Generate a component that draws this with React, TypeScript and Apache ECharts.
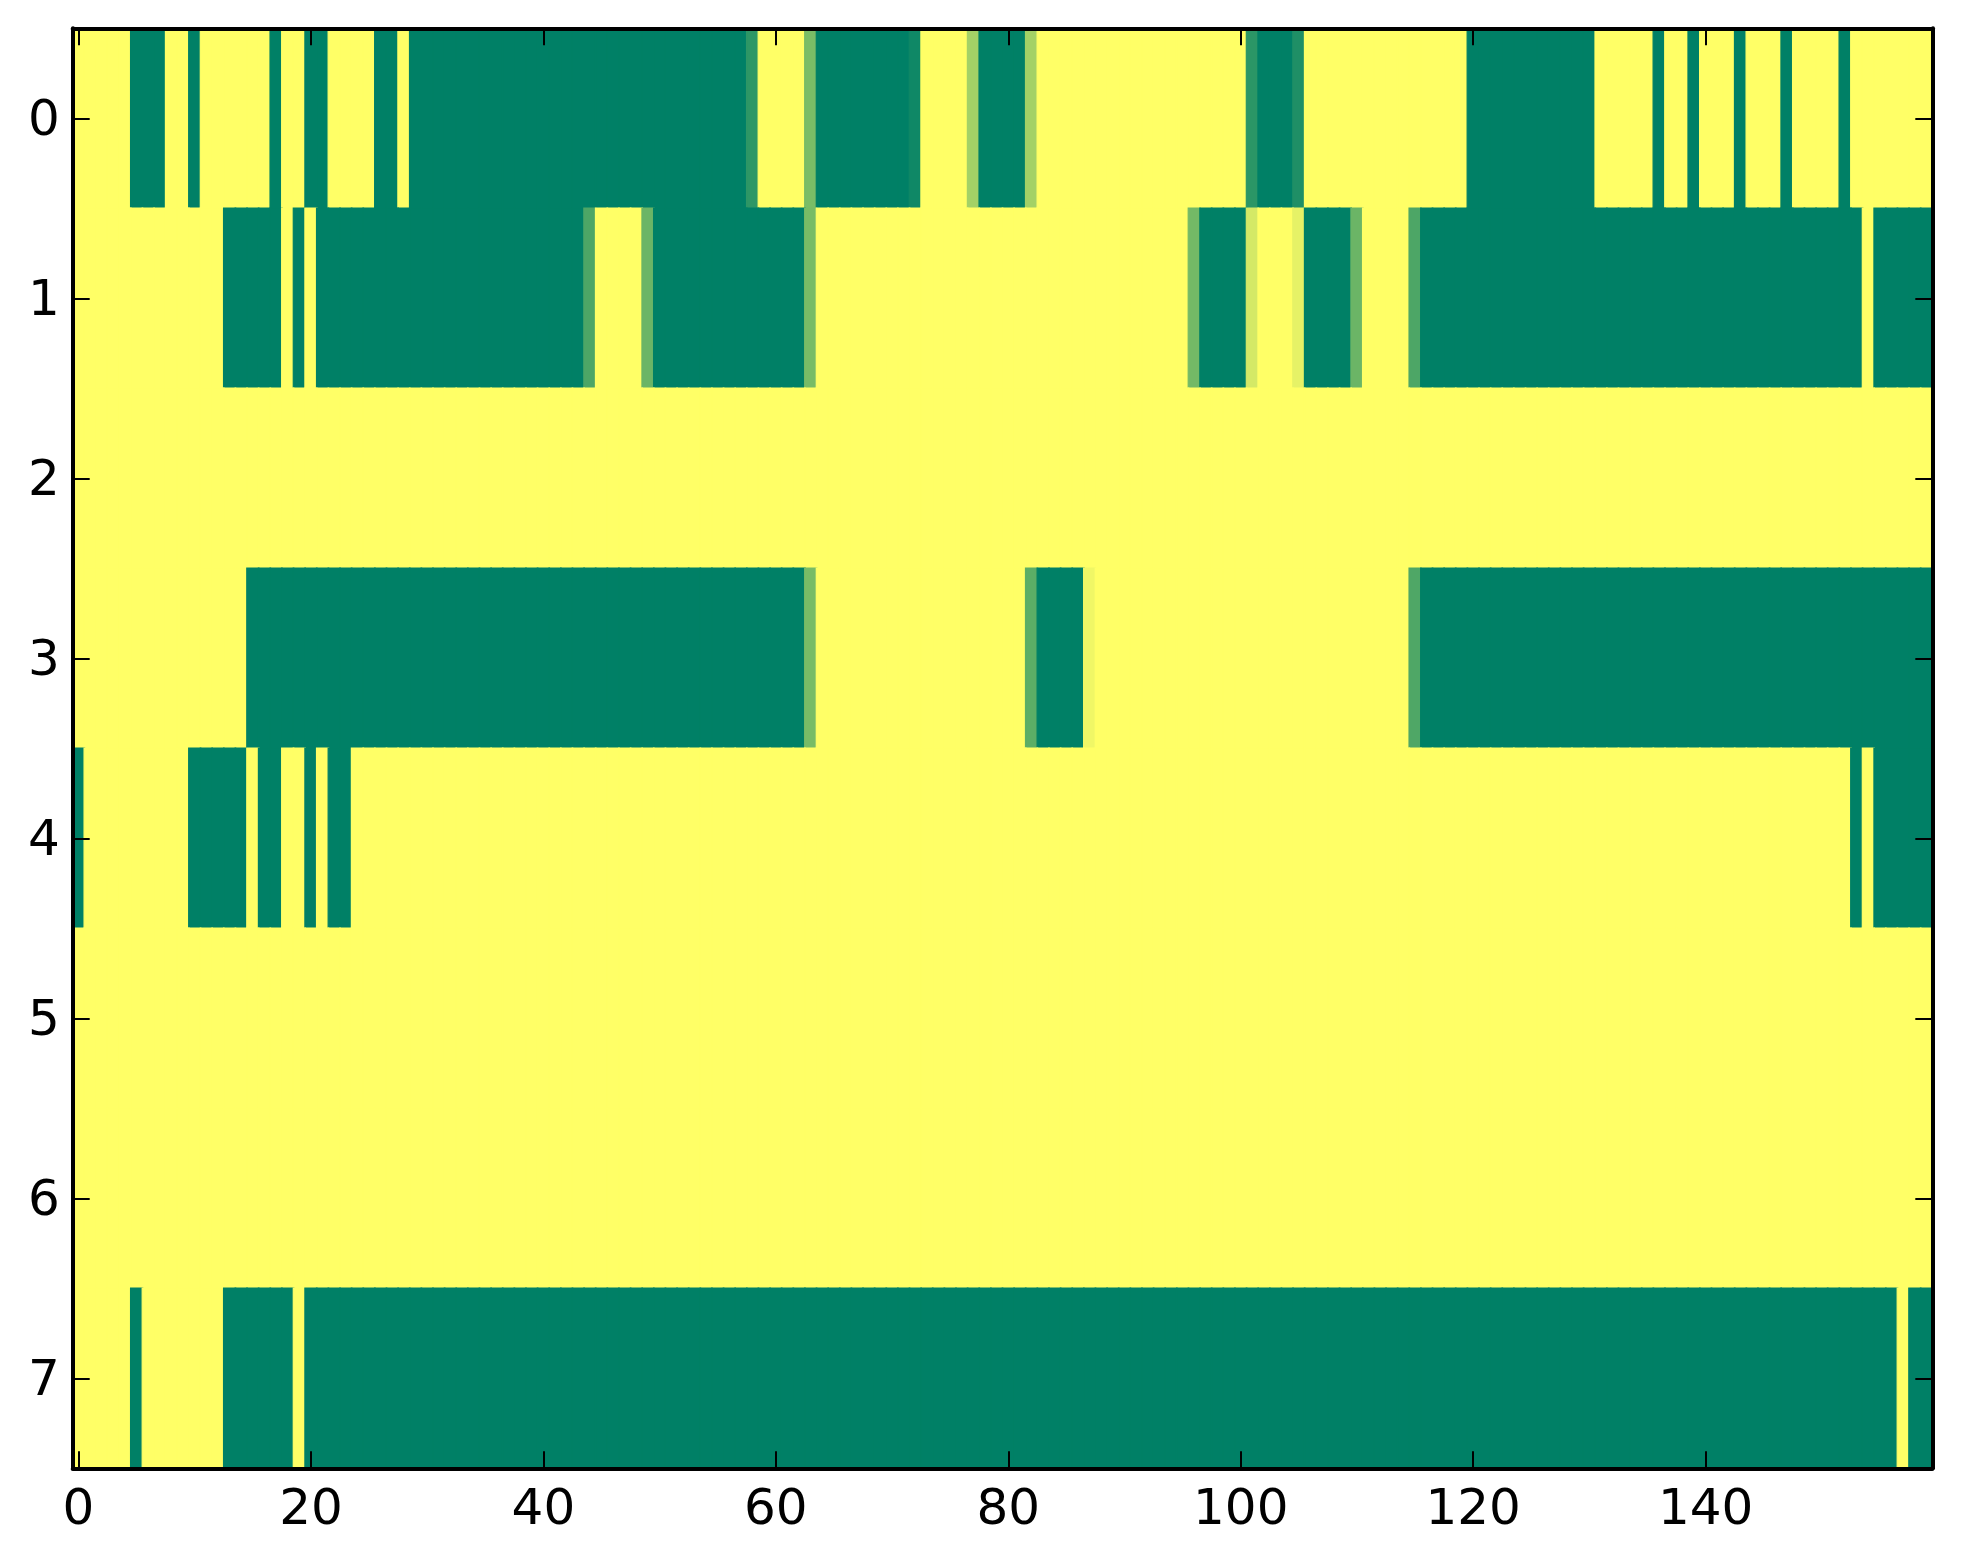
import { useEffect, useRef } from "react";
import * as echarts from "echarts";

// column categories 0..159 and row categories 0..7
const xCategories: string[] = Array.from({ length: 160 }, (_, i) => String(i));
const yCategories = ["0", "1", "2", "3", "4", "5", "6", "7"];
const xTickLabels = ["0", "20", "40", "60", "80", "100", "120", "140"];

// cell values per row (0 = green end, 1 = yellow end of the colormap)
const row0 = [
  1,1,1,1,1,0,0,0,1,1,0,1,1,1,1,1,1,0,1,1,
  0,0,1,1,1,1,0,0,1,0,0,0,0,0,0,0,0,0,0,0,
  0,0,0,0,0,0,0,0,0,0,0,0,0,0,0,0,0,0,0.18,1,
  1,1,1,0.48,0,0,0,0,0,0,0,0,0.06,1,1,1,1,0.64,0,0,
  0,0,0.64,1,1,1,1,1,1,1,1,1,1,1,1,1,1,1,1,1,
  1,0.17,0,0,0,0.12,1,1,1,1,1,1,1,1,1,1,1,1,1,1,
  0,0,0,0,0,0,0,0,0,0,0,1,1,1,1,1,0,1,1,0,
  1,1,1,0,1,1,1,0,1,1,1,1,0,1,1,1,1,1,1,1,
];
const row1 = [
  1,1,1,1,1,1,1,1,1,1,1,1,1,0,0,0,0,0,1,0,
  1,0,0,0,0,0,0,0,0,0,0,0,0,0,0,0,0,0,0,0,
  0,0,0,0,0.3,1,1,1,1,0.42,0,0,0,0,0,0,0,0,0,0,
  0,0,0,0.47,1,1,1,1,1,1,1,1,1,1,1,1,1,1,1,1,
  1,1,1,1,1,1,1,1,1,1,1,1,1,1,1,1,0.45,0,0,0,
  0,0.83,1,1,1,0.9,0,0,0,0,0.42,1,1,1,1,0.3,0,0,0,0,
  0,0,0,0,0,0,0,0,0,0,0,0,0,0,0,0,0,0,0,0,
  0,0,0,0,0,0,0,0,0,0,0,0,0,0,1,0,0,0,0,0,
];
const row2 = [
  1,1,1,1,1,1,1,1,1,1,1,1,1,1,1,1,1,1,1,1,
  1,1,1,1,1,1,1,1,1,1,1,1,1,1,1,1,1,1,1,1,
  1,1,1,1,1,1,1,1,1,1,1,1,1,1,1,1,1,1,1,1,
  1,1,1,1,1,1,1,1,1,1,1,1,1,1,1,1,1,1,1,1,
  1,1,1,1,1,1,1,1,1,1,1,1,1,1,1,1,1,1,1,1,
  1,1,1,1,1,1,1,1,1,1,1,1,1,1,1,1,1,1,1,1,
  1,1,1,1,1,1,1,1,1,1,1,1,1,1,1,1,1,1,1,1,
  1,1,1,1,1,1,1,1,1,1,1,1,1,1,1,1,1,1,1,1,
];
const row3 = [
  1,1,1,1,1,1,1,1,1,1,1,1,1,1,1,0,0,0,0,0,
  0,0,0,0,0,0,0,0,0,0,0,0,0,0,0,0,0,0,0,0,
  0,0,0,0,0,0,0,0,0,0,0,0,0,0,0,0,0,0,0,0,
  0,0,0,0.47,1,1,1,1,1,1,1,1,1,1,1,1,1,1,1,1,
  1,1,0.36,0,0,0,0,0.94,1,1,1,1,1,1,1,1,1,1,1,1,
  1,1,1,1,1,1,1,1,1,1,1,1,1,1,1,0.31,0,0,0,0,
  0,0,0,0,0,0,0,0,0,0,0,0,0,0,0,0,0,0,0,0,
  0,0,0,0,0,0,0,0,0,0,0,0,0,0,0,0,0,0,0,0,
];
const row4 = [
  0,1,1,1,1,1,1,1,1,1,0,0,0,0,0,1,0,0,1,1,
  0,1,0,0,1,1,1,1,1,1,1,1,1,1,1,1,1,1,1,1,
  1,1,1,1,1,1,1,1,1,1,1,1,1,1,1,1,1,1,1,1,
  1,1,1,1,1,1,1,1,1,1,1,1,1,1,1,1,1,1,1,1,
  1,1,1,1,1,1,1,1,1,1,1,1,1,1,1,1,1,1,1,1,
  1,1,1,1,1,1,1,1,1,1,1,1,1,1,1,1,1,1,1,1,
  1,1,1,1,1,1,1,1,1,1,1,1,1,1,1,1,1,1,1,1,
  1,1,1,1,1,1,1,1,1,1,1,1,1,0,1,0,0,0,0,0,
];
const row5 = [
  1,1,1,1,1,1,1,1,1,1,1,1,1,1,1,1,1,1,1,1,
  1,1,1,1,1,1,1,1,1,1,1,1,1,1,1,1,1,1,1,1,
  1,1,1,1,1,1,1,1,1,1,1,1,1,1,1,1,1,1,1,1,
  1,1,1,1,1,1,1,1,1,1,1,1,1,1,1,1,1,1,1,1,
  1,1,1,1,1,1,1,1,1,1,1,1,1,1,1,1,1,1,1,1,
  1,1,1,1,1,1,1,1,1,1,1,1,1,1,1,1,1,1,1,1,
  1,1,1,1,1,1,1,1,1,1,1,1,1,1,1,1,1,1,1,1,
  1,1,1,1,1,1,1,1,1,1,1,1,1,1,1,1,1,1,1,1,
];
const row6 = [
  1,1,1,1,1,1,1,1,1,1,1,1,1,1,1,1,1,1,1,1,
  1,1,1,1,1,1,1,1,1,1,1,1,1,1,1,1,1,1,1,1,
  1,1,1,1,1,1,1,1,1,1,1,1,1,1,1,1,1,1,1,1,
  1,1,1,1,1,1,1,1,1,1,1,1,1,1,1,1,1,1,1,1,
  1,1,1,1,1,1,1,1,1,1,1,1,1,1,1,1,1,1,1,1,
  1,1,1,1,1,1,1,1,1,1,1,1,1,1,1,1,1,1,1,1,
  1,1,1,1,1,1,1,1,1,1,1,1,1,1,1,1,1,1,1,1,
  1,1,1,1,1,1,1,1,1,1,1,1,1,1,1,1,1,1,1,1,
];
const row7 = [
  1,1,1,1,1,0,1,1,1,1,1,1,1,0,0,0,0,0,0,1,
  0,0,0,0,0,0,0,0,0,0,0,0,0,0,0,0,0,0,0,0,
  0,0,0,0,0,0,0,0,0,0,0,0,0,0,0,0,0,0,0,0,
  0,0,0,0,0,0,0,0,0,0,0,0,0,0,0,0,0,0,0,0,
  0,0,0,0,0,0,0,0,0,0,0,0,0,0,0,0,0,0,0,0,
  0,0,0,0,0,0,0,0,0,0,0,0,0,0,0,0,0,0,0,0,
  0,0,0,0,0,0,0,0,0,0,0,0,0,0,0,0,0,0,0,0,
  0,0,0,0,0,0,0,0,0,0,0,0,0,0,0,0,0,1,0,0,
];

const rows = [row0, row1, row2, row3, row4, row5, row6, row7];
const colormap = ["#008066", "#ffff66"];

export default function App() {
  const ref = useRef<HTMLDivElement>(null);

  useEffect(() => {
    if (!ref.current) return;
    const chart = echarts.init(ref.current, null, { renderer: "svg" });
    // each cell also gets a thin border in its own colour so that adjacent
    // cells do not show anti-aliasing seams in the SVG output
    const data = rows.flatMap((r, y) =>
      r.map((v, x) => ({
        value: [x, y, v],
        itemStyle: { borderColor: echarts.color.lerp(v, colormap), borderWidth: 1.2 },
      }))
    );
    const showX = (i: number) => xTickLabels.includes(xCategories[i]);
    const font = { fontFamily: "DejaVu Sans", fontSize: 50, color: "#000" };
    const lineStyle = { color: "#000", width: 4 };
    const tickStyle = { color: "#000", width: 2 };

    chart.setOption({
      animation: false,
      backgroundColor: "#ffffff",
      grid: { left: 72.7, top: 28.3, width: 1859.6, height: 1440, containLabel: false },
      xAxis: [
        {
          type: "category",
          data: xCategories,
          position: "bottom",
          z: 10,
          axisLine: { show: true, lineStyle },
          axisTick: { show: true, inside: true, length: 17, alignWithLabel: true, interval: (i: number) => showX(i), lineStyle: tickStyle },
          axisLabel: { show: true, interval: (i: number) => showX(i), margin: 14, ...font },
          splitLine: { show: false },
          splitArea: { show: false },
        },
        {
          type: "category",
          data: xCategories,
          position: "top",
          z: 10,
          axisLine: { show: true, lineStyle },
          axisTick: { show: true, inside: true, length: 17, alignWithLabel: true, interval: (i: number) => showX(i), lineStyle: tickStyle },
          axisLabel: { show: false },
          splitLine: { show: false },
          splitArea: { show: false },
        },
      ],
      yAxis: [
        {
          type: "category",
          data: yCategories,
          inverse: true,
          position: "left",
          z: 10,
          axisLine: { show: true, lineStyle },
          axisTick: { show: true, inside: true, length: 17, alignWithLabel: true, interval: 0, lineStyle: tickStyle },
          axisLabel: { show: true, interval: 0, margin: 13, ...font },
          splitLine: { show: false },
          splitArea: { show: false },
        },
        {
          type: "category",
          data: yCategories,
          inverse: true,
          position: "right",
          z: 10,
          axisLine: { show: true, lineStyle },
          axisTick: { show: true, inside: true, length: 17, alignWithLabel: true, interval: 0, lineStyle: tickStyle },
          axisLabel: { show: false },
          splitLine: { show: false },
          splitArea: { show: false },
        },
      ],
      visualMap: {
        show: false,
        type: "continuous",
        min: 0,
        max: 1,
        dimension: 2,
        seriesIndex: 0,
        inRange: { color: colormap },
      },
      series: [
        {
          type: "heatmap",
          xAxisIndex: 0,
          yAxisIndex: 0,
          data,
          emphasis: { disabled: true },
        },
      ],
    });

    return () => chart.dispose();
  }, []);

  return (
    <div
      ref={ref}
      style={{ position: "fixed", left: 0, top: 0, width: 1963, height: 1564 }}
    />
  );
}
